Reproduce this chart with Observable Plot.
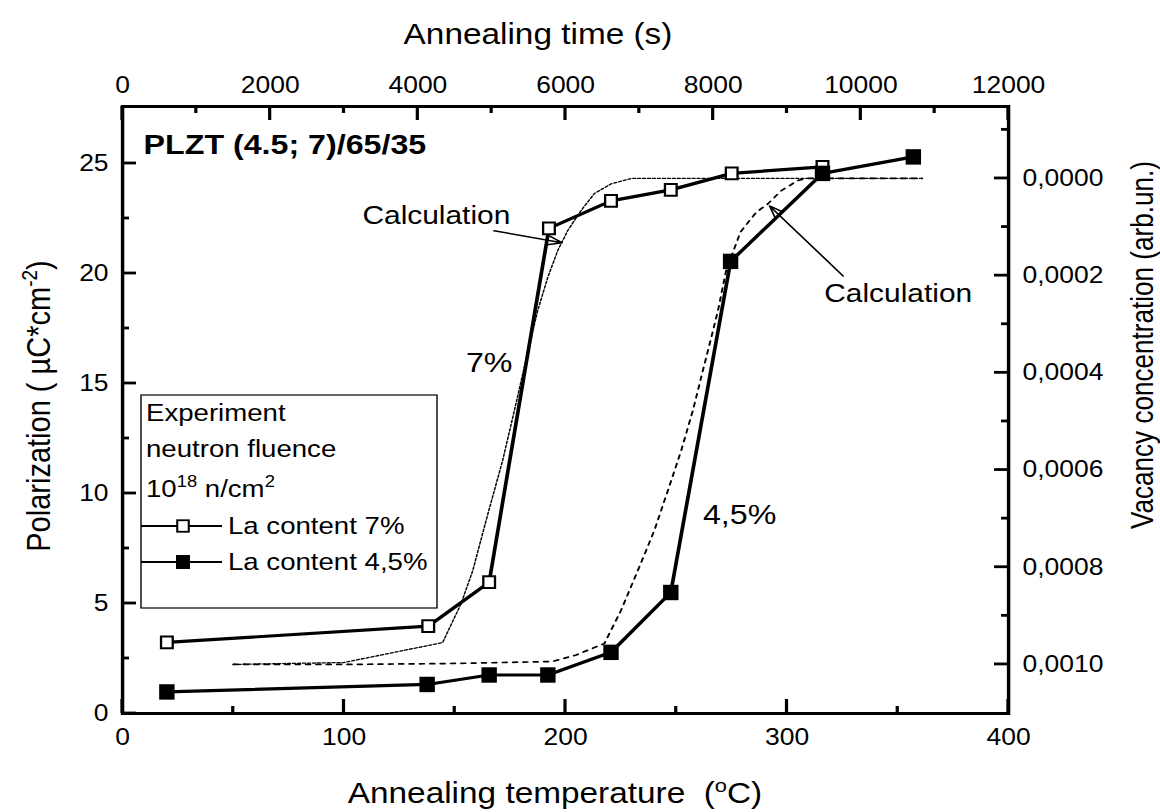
<!DOCTYPE html>
<html>
<head>
<meta charset="utf-8">
<script src="https://cdn.jsdelivr.net/npm/d3@7"></script>
<script src="https://cdn.jsdelivr.net/npm/@observablehq/plot@0.6"></script>
<style>
  html, body { margin: 0; padding: 0; background: #fff; }
  #chart { width: 1160px; height: 812px; overflow: hidden; }
</style>
</head>
<body>
<div id="chart"></div>
<script>
// ---------- data ----------
// Experiment, La content 7 %  (open squares)
const temp7 = [20, 138, 165.5, 192.5, 220.5, 247.5, 275, 316];
const pol7  = [3.23, 3.97, 5.97, 22.05, 23.3, 23.8, 24.55, 24.85];
// Experiment, La content 4,5 %  (filled squares)
const temp45 = [20, 137.5, 165.5, 192, 220.5, 247.5, 274.5, 316, 357];
const pol45  = [0.98, 1.32, 1.75, 1.75, 2.78, 5.5, 20.55, 24.55, 25.3];
// Calculation (vacancy concentration, right axis), 7 %
const calcTemp7 = [50, 100, 144.5, 152.8, 158.1, 164.1, 171.6, 176.9, 182.1, 187.4, 192.0, 196.5, 201.0, 207.0, 213.0, 220.6, 229.6, 361];
const calcVac7  = [0.001, 0.000996, 0.000955, 0.000875, 0.000807, 0.000704, 0.00058, 0.000477, 0.000374, 0.000272, 0.000203, 0.000148, 0.000107, 0.000066, 0.000031, 0.000011, 0, 0];
// Calculation, 4,5 %
const calcTemp45 = [50, 100, 150, 194, 204.5, 217.5, 225, 232.6, 240.1, 246.2, 252.2, 257.5, 262, 265.8, 268.8, 272.5, 279, 286, 291.4, 297.4, 305, 309, 361];
const calcVac45  = [0.001, 0.001, 0.000998, 0.000994, 0.000981, 0.000957, 0.000889, 0.000807, 0.000724, 0.000642, 0.00056, 0.000477, 0.000395, 0.000327, 0.000272, 0.000189, 0.00011, 0.00007, 0.000052, 0.000025, 0.000004, 0, 0];

// axes / ticks
const tempTicks = [0, 100, 200, 300, 400];
const tempMinor = [50, 150, 250, 350];
const timeTicks = [0, 2000, 4000, 6000, 8000, 10000, 12000];
const timeMinor = [1000, 3000, 5000, 7000, 9000, 11000];
const polTicks = [0, 5, 10, 15, 20, 25];
const polMinor = [2.5, 7.5, 12.5, 17.5, 22.5];
const vacTicks = [0, 0.0002, 0.0004, 0.0006, 0.0008, 0.0010];
const vacMinor = [-0.0001, 0.0001, 0.0003, 0.0005, 0.0007, 0.0009];
const secondsPerDegree = 30;      // 12000 s <-> 400 °C on the shared frame
const vacZeroPol = 24.32;         // polarization level where vacancy = 0
const vacFullPol = 2.23;          // polarization level where vacancy = 0.001
const vacFull = 0.001;

// annotations
const annotText = ["PLZT (4.5; 7)/65/35", "Calculation", "Calculation", "7%", "4,5%"];
const annotTemp = [9.5, 108.3, 316.8, 155, 262];
const annotPol  = [25.44, 22.25, 18.7, 15.51, 8.61];
const arrowTemp1 = [167.7, 325.3];
const arrowPol1  = [21.94, 19.89];
const arrowTemp2 = [198.4, 292.1];
const arrowPol2  = [21.4, 23.07];

// legend
const legendHeader = ["Experiment", "neutron fluence"];
const legendLabels = ["La content 7%", "La content 4,5%"];

// ---------- layout ----------
const S = 1.15;                       // horizontal stretch of the reference rendering
const W = 1160 / S, H = 812;
const FL = 122 / S, FR = 1008 / S, FT = 106, FB = 713;
const FW = FR - FL, FH = FB - FT;
const FONT = "'Liberation Sans', Arial, Helvetica, sans-serif";
const MAJ = 14, MIN = 7;

const vacToPol = v => vacZeroPol + (vacFullPol - vacZeroPol) * v / vacFull;
const polToVac = p => (p - vacZeroPol) / (vacFullPol - vacZeroPol) * vacFull;
const fmtVac = p => { let v = polToVac(p); if (Math.abs(v) < 1e-9) v = 0; return v.toFixed(4).replace(".", ","); };

const exp7 = temp7.map((t, i) => ({t, p: pol7[i]}));
const exp45 = temp45.map((t, i) => ({t, p: pol45[i]}));
const calc7 = calcTemp7.map((t, i) => ({t, p: vacToPol(calcVac7[i])}));
const calc45 = calcTemp45.map((t, i) => ({t, p: vacToPol(calcVac45[i])}));
const annots = annotText.map((text, i) => ({text, t: annotTemp[i], p: annotPol[i]}));
const arrows = arrowTemp1.map((t, i) => ({t1: t, p1: arrowPol1[i], t2: arrowTemp2[i], p2: arrowPol2[i]}));

// rectangular symbol compensating the horizontal stretch (square on screen)
const squareSym = {draw(ctx, size) { const h = Math.sqrt(size); const w = h / S; ctx.rect(-w / 2, -h / 2, w, h); }};

const tl = {stroke: "none", tickSize: 0, label: null, fontSize: 23};

const svg = Plot.plot({
  width: W, height: H,
  marginLeft: FL, marginRight: W - FR, marginTop: FT, marginBottom: H - FB,
  x: {domain: [0, 400]},
  y: {domain: [0, FH / 22]},
  style: {fontFamily: FONT, fontSize: "23px", color: "black", background: "white"},
  marks: [
    Plot.line(calc45, {x: "t", y: "p", stroke: "black", strokeWidth: 1.7, strokeDasharray: "4,5"}),
    Plot.line(calc7, {x: "t", y: "p", stroke: "black", strokeWidth: 1.3, strokeDasharray: "2.5,1.8"}),
    Plot.line(exp7, {x: "t", y: "p", stroke: "black", strokeWidth: 3.2}),
    Plot.line(exp45, {x: "t", y: "p", stroke: "black", strokeWidth: 3.2}),
    Plot.dot(exp7, {x: "t", y: "p", symbol: squareSym, r: 6.6, fill: "white", stroke: "black", strokeWidth: 2}),
    Plot.dot(exp45, {x: "t", y: "p", symbol: squareSym, r: 8.7, fill: "black", stroke: "none"}),
    Plot.arrow(arrows, {x1: "t1", y1: "p1", x2: "t2", y2: "p2", stroke: "black", strokeWidth: 1.5, headLength: 13, headAngle: 40}),
    Plot.text(annots.slice(0, 1), {x: "t", y: "p", text: "text", fontSize: 28, fontWeight: "bold", textAnchor: "start", lineAnchor: "bottom"}),
    Plot.text(annots.slice(1, 3), {x: "t", y: "p", text: "text", fontSize: 26, textAnchor: "start", lineAnchor: "bottom"}),
    Plot.text(annots.slice(3), {x: "t", y: "p", text: "text", fontSize: 28, textAnchor: "start", lineAnchor: "bottom"}),
    // tick labels
    Plot.axisX(tempTicks, {anchor: "bottom", tickPadding: 15, ...tl}),
    Plot.axisX(timeTicks.map(s => s / secondsPerDegree), {anchor: "top", tickPadding: 14, tickFormat: d => String(Math.round(d * secondsPerDegree)), ...tl}),
    Plot.axisY(polTicks, {anchor: "left", tickPadding: 14 / S, ...tl}),
    Plot.axisY(vacTicks.map(vacToPol), {anchor: "right", tickPadding: 14 / S, tickFormat: fmtVac, ...tl}),
    Plot.frame({stroke: "black", strokeWidth: 3})
  ]
});

// stretch horizontally like the reference
svg.setAttribute("viewBox", `0 0 ${W} ${H}`);
svg.setAttribute("width", 1160);
svg.setAttribute("height", 812);
svg.setAttribute("preserveAspectRatio", "none");
svg.style.width = "1160px";
svg.style.height = "812px";
svg.style.maxWidth = "none";
document.getElementById("chart").appendChild(svg);

const root = d3.select(svg);

// inward ticks, positioned with the plot's own scales
const sx = svg.scale("x"), sy = svg.scale("y");
const fx = sx.apply ? v => sx.apply(v) : d3.scaleLinear(sx.domain, sx.range);
const fy = sy.apply ? v => sy.apply(v) : d3.scaleLinear(sy.domain, sy.range);
const tg = root.append("g").attr("stroke", "black").attr("stroke-width", 2.8);
const addTicks = (vals, len, side) => vals.forEach(v => {
  if (side === "b") tg.append("line").attr("x1", fx(v)).attr("x2", fx(v)).attr("y1", FB).attr("y2", FB - len);
  if (side === "t") tg.append("line").attr("x1", fx(v)).attr("x2", fx(v)).attr("y1", FT).attr("y2", FT + len);
  if (side === "l") tg.append("line").attr("y1", fy(v)).attr("y2", fy(v)).attr("x1", FL).attr("x2", FL + len / S);
  if (side === "r") tg.append("line").attr("y1", fy(v)).attr("y2", fy(v)).attr("x1", FR).attr("x2", FR - len / S);
});
addTicks(tempTicks, MAJ, "b"); addTicks(tempMinor, MIN, "b");
addTicks(timeTicks.map(s => s / secondsPerDegree), MAJ, "t"); addTicks(timeMinor.map(s => s / secondsPerDegree), MIN, "t");
addTicks(polTicks, MAJ, "l"); addTicks(polMinor, MIN, "l");
addTicks(vacTicks.map(vacToPol), MAJ, "r"); addTicks(vacMinor.map(vacToPol), MIN, "r");

const g = root.append("g").attr("font-family", FONT).attr("fill", "black").attr("text-anchor", "start").style("white-space", "pre");

// axis titles
g.append("text").attr("x", 538 / S).attr("y", 44).attr("text-anchor", "middle").attr("font-size", 29)
  .text("Annealing time (s)");

const bt = g.append("text").attr("x", 555 / S).attr("y", 803).attr("text-anchor", "middle").attr("font-size", 29);
bt.append("tspan").text("Annealing temperature  (");
bt.append("tspan").attr("font-size", 19).attr("dy", -11).text("o");
bt.append("tspan").attr("dy", 11).text("C)");

const lt = g.append("text").attr("transform", `translate(${50 / S},406) rotate(-90)`).attr("text-anchor", "middle").attr("font-size", 29);
lt.append("tspan").text("Polarization ( \u00b5C*cm");
lt.append("tspan").attr("font-size", 19).attr("dy", -11).text("-2");
lt.append("tspan").attr("dy", 11).text(")");

g.append("text").attr("transform", `translate(${1153 / S},345) rotate(-90)`).attr("text-anchor", "middle").attr("font-size", 28)
  .attr("textLength", 368).attr("lengthAdjust", "spacingAndGlyphs")
  .text("Vacancy concentration (arb.un.)");

// legend
const lg = g.append("g").attr("text-anchor", "start");
lg.append("rect").attr("x", 141 / S).attr("y", 395).attr("width", (437 - 141) / S).attr("height", 608 - 395)
  .attr("fill", "white").attr("stroke", "black").attr("stroke-width", 1.2);
legendHeader.forEach((s, i) => {
  lg.append("text").attr("x", 146 / S).attr("y", 421 + i * 36).attr("font-size", 24).text(s);
});
const fl = lg.append("text").attr("x", 146 / S).attr("y", 497).attr("font-size", 24);
fl.append("tspan").text("10");
fl.append("tspan").attr("font-size", 16).attr("dy", -10).text("18");
fl.append("tspan").attr("dy", 10).text(" n/cm");
fl.append("tspan").attr("font-size", 16).attr("dy", -10).text("2");
legendLabels.forEach((s, i) => {
  const y = 526 + i * 36;
  lg.append("line").attr("x1", 141 / S).attr("x2", 222 / S).attr("y1", y).attr("y2", y).attr("stroke", "black").attr("stroke-width", 2.2);
  const side = i === 0 ? 11.5 : 14;
  lg.append("rect").attr("x", 183 / S - side / S / 2).attr("y", y - side / 2).attr("width", side / S).attr("height", side)
    .attr("fill", i === 0 ? "white" : "black").attr("stroke", "black").attr("stroke-width", i === 0 ? 1.8 : 0);
  lg.append("text").attr("x", 228 / S).attr("y", y + 8).attr("font-size", 24).text(s);
});
</script>
</body>
</html>
